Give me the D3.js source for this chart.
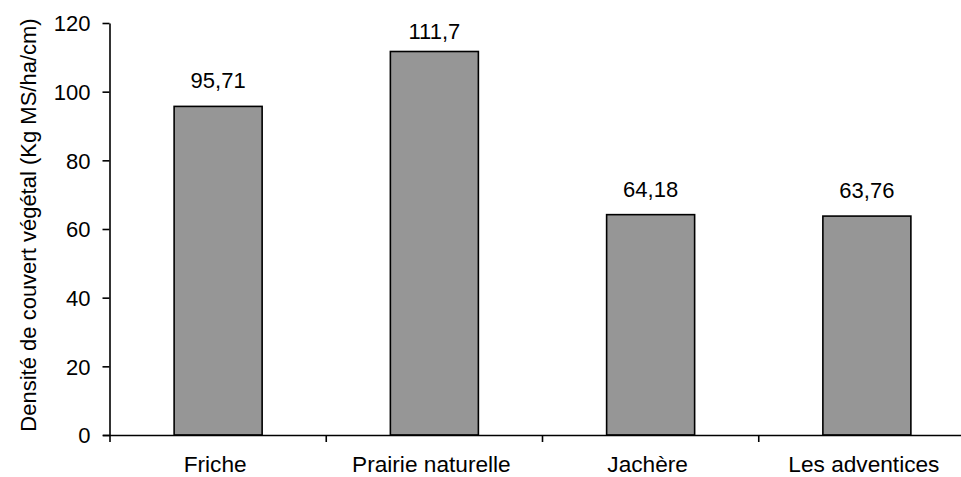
<!DOCTYPE html>
<html>
<head>
<meta charset="utf-8">
<script src="https://cdn.jsdelivr.net/npm/d3@7"></script>
<style>
  html, body { margin: 0; padding: 0; background: #fff; }
  svg { display: block; font-family: "Liberation Sans", Arial, sans-serif; }
</style>
</head>
<body>
<svg id="chart" width="961" height="477"></svg>
<script>
const categories = ["Friche", "Prairie naturelle", "Jachère", "Les adventices"];
const values = [95.71, 111.7, 64.18, 63.76];
const valueLabels = ["95,71", "111,7", "64,18", "63,76"];
const yTicks = [0, 20, 40, 60, 80, 100, 120];
const yTitle = "Densité de couvert végétal (Kg MS/ha/cm)";

const svg = d3.select("#chart");
const fontSize = 22;
const stretch = 1.03;

const y = d3.scaleLinear().domain([0, 120]).range([435, 23]);
const x = d3.scaleBand().domain(categories).range([110, 975]).padding(0);
const barW = x.bandwidth() * 0.407;

// bars
svg.append("g").selectAll("rect")
  .data(values)
  .join("rect")
  .attr("x", (d, i) => x(categories[i]) + (x.bandwidth() - barW) / 2)
  .attr("y", d => y(d))
  .attr("width", barW)
  .attr("height", d => y(0) - y(d))
  .attr("fill", "#969696")
  .attr("stroke", "#000")
  .attr("stroke-width", 1.6);

// y axis
const yAxis = svg.append("g")
  .attr("transform", "translate(109.5,0)")
  .call(d3.axisLeft(y).tickValues(yTicks).tickSize(7).tickSizeOuter(0).tickPadding(12));
yAxis.select(".domain").attr("stroke", "#000").attr("stroke-width", 1.6);
yAxis.selectAll(".tick line").attr("stroke", "#000").attr("stroke-width", 1.6);
yAxis.selectAll(".tick text")
  .attr("font-size", fontSize)
  .attr("font-family", "Liberation Sans, Arial, sans-serif")
  .attr("fill", "#000")
  .attr("dy", "0.36em");

// x axis: boundary ticks
const boundaries = categories.map(c => x(c)).concat([x.range()[1]]);
const xg = svg.append("g");
xg.append("line")
  .attr("x1", 103).attr("x2", 975)
  .attr("y1", y(0) + 0.5).attr("y2", y(0) + 0.5)
  .attr("stroke", "#000").attr("stroke-width", 1.6);
xg.selectAll(".xt").data(boundaries).join("line")
  .attr("class", "xt")
  .attr("x1", d => d).attr("x2", d => d)
  .attr("y1", y(0)).attr("y2", y(0) + 7)
  .attr("stroke", "#000").attr("stroke-width", 1.6);

// category labels
xg.selectAll(".cat").data(categories).join("text")
  .attr("class", "cat")
  .attr("transform", d => `translate(${x(d) + x.bandwidth() / 2 - 3},472) scale(${stretch},1)`)
  .attr("text-anchor", "middle")
  .attr("font-size", fontSize)
  .text(d => d);

// value labels
svg.append("g").selectAll("text")
  .data(values)
  .join("text")
  .attr("transform", (d, i) => `translate(${x(categories[i]) + x.bandwidth() / 2},${Math.max(y(d) - 18, 39)})`)
  .attr("text-anchor", "middle")
  .attr("font-size", fontSize)
  .text((d, i) => valueLabels[i]);

// y title
svg.append("text")
  .attr("transform", `translate(36,${(y(0) + y(120)) / 2 - 4}) rotate(-90)`)
  .attr("text-anchor", "middle")
  .attr("font-size", fontSize)
  .text(yTitle);
</script>
</body>
</html>
